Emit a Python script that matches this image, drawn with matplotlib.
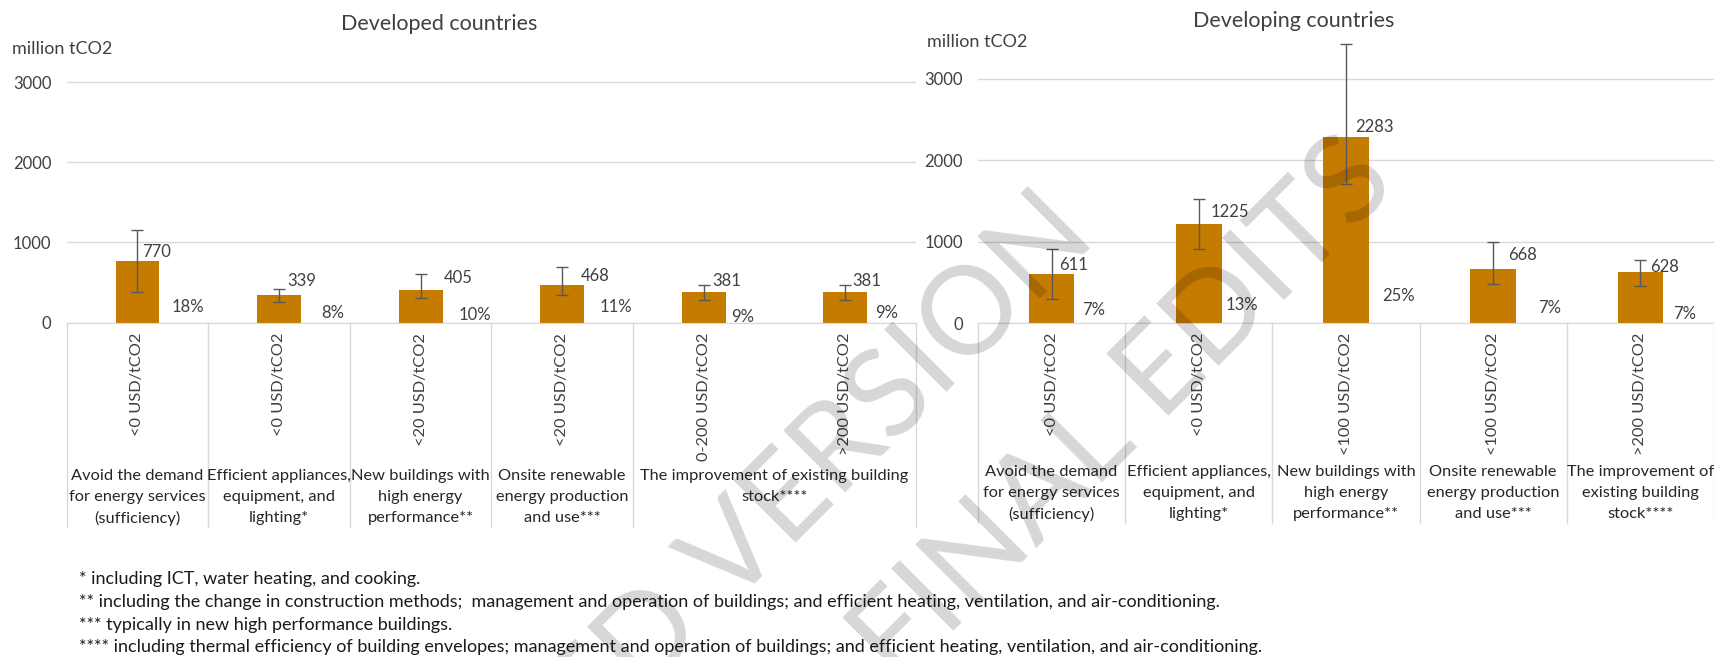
import matplotlib.pyplot as plt
from matplotlib import transforms

plt.rcParams['font.family'] = ['Lato', 'DejaVu Sans']

W, H = 1715, 657

# ---- data: developed countries ----
dev_costs = ['<0 USD/tCO2', '<0 USD/tCO2', '<20 USD/tCO2', '<20 USD/tCO2',
             '0-200 USD/tCO2', '>200 USD/tCO2']
dev_groups = ['Avoid the demand\nfor energy services\n(sufficiency)',
              'Efficient appliances,\nequipment, and\nlighting*',
              'New buildings with\nhigh energy\nperformance**',
              'Onsite renewable\nenergy production\nand use***',
              'The improvement of existing building\nstock****']
dev_group_of_bar = [0, 1, 2, 3, 4, 4]
dev_values = [770, 339, 405, 468, 381, 381]
dev_low = [375, 250, 308, 347, 277, 277]
dev_high = [1158, 421, 600, 690, 467, 467]
dev_share = ['18%', '8%', '10%', '11%', '9%', '9%']

# ---- data: developing countries ----
dvg_costs = ['<0 USD/tCO2', '<0 USD/tCO2', '<100 USD/tCO2', '<100 USD/tCO2',
             '>200 USD/tCO2']
dvg_groups = ['Avoid the demand\nfor energy services\n(sufficiency)',
              'Efficient appliances,\nequipment, and\nlighting*',
              'New buildings with\nhigh energy\nperformance**',
              'Onsite renewable\nenergy production\nand use***',
              'The improvement of\nexisting building\nstock****']
dvg_group_of_bar = [0, 1, 2, 3, 4]
dvg_values = [611, 1225, 2283, 668, 628]
dvg_low = [295, 914, 1709, 488, 463]
dvg_high = [918, 1529, 3426, 1000, 783]
dvg_share = ['7%', '13%', '25%', '7%', '7%']

footnotes = ['* including ICT, water heating, and cooking.',
             '** including the change in construction methods;  management and operation of buildings; '
             'and efficient heating, ventilation, and air-conditioning.',
             '*** typically in new high performance buildings.',
             '**** including thermal efficiency of building envelopes; management and operation of buildings; '
             'and efficient heating, ventilation, and air-conditioning.']

# label nudges in pixels (layout only)
dev_val_nudge = [(5, 9), (8, 14), (23, 12), (19, 9), (9, 11), (7, 11)]
dev_pct_nudge = [(34, 15), (42, 9), (38, 8), (37, 15), (27, 6), (30, 9)]
dvg_val_nudge = [(8, 9), (12, 12), (9, 10), (15, 14), (10, 5)]
dvg_pct_nudge = [(31, 13), (27, 18), (36, 27), (45, 15), (33, 9)]

BAR = '#C57A00'
GRID = '#D9D9D9'
TXT = '#404040'


def fy(py):
    return 1 - py / H


def draw_panel(fig, rect, values, low, high, costs, groups, group_of_bar, shares,
               val_nudge, pct_nudge, sep_bottom, group_top):
    ax = fig.add_axes(rect)
    x = list(range(len(values)))
    yerr = [[v - l for v, l in zip(values, low)], [h - v for v, h in zip(values, high)]]
    ax.bar(x, values, width=0.31, color=BAR, zorder=2)
    ax.errorbar(x, values, yerr=yerr, fmt='none', ecolor='#595959', elinewidth=1,
                capsize=4, capthick=1, zorder=3)
    ax.set_xlim(-0.5, len(values) - 0.5)
    ax.set_ylim(0, 3500)
    ax.set_yticks([0, 1000, 2000, 3000])
    ax.tick_params(axis='y', length=0, pad=11, labelsize=12, labelcolor=TXT)
    ax.set_xticks([])
    ax.grid(axis='y', color=GRID, lw=1)
    ax.set_axisbelow(True)
    for s in ['top', 'right', 'left']:
        ax.spines[s].set_visible(False)
    ax.spines['bottom'].set_color(GRID)

    for i, v in enumerate(values):
        ax.annotate(str(v), (i, v), xytext=val_nudge[i], textcoords='offset pixels',
                    ha='left', va='center', fontsize=12, color=TXT)
        ax.annotate(shares[i], (i, 0), xytext=pct_nudge[i], textcoords='offset pixels',
                    ha='left', va='center', fontsize=12, color=TXT)

    tr = transforms.blended_transform_factory(ax.transData, fig.transFigure)
    for i, c in enumerate(costs):
        fig.text(i, fy(333), c, transform=tr, rotation=90, ha='center', va='top',
                 fontsize=11.8, color=TXT)

    # group labels and separators
    bounds = [-0.5]
    for g, lab in enumerate(groups):
        members = [i for i, gb in enumerate(group_of_bar) if gb == g]
        center = sum(members) / len(members)
        fig.text(center, fy(group_top), lab, transform=tr, ha='center', va='top',
                 fontsize=11.8, color='#262626', linespacing=1.62)
        bounds.append(members[-1] + 0.5)
    y0 = fig.transFigure.inverted().transform(ax.transAxes.transform((0, 0)))[1]
    for b in bounds:
        fig.add_artist(plt.Line2D([b, b], [y0, fy(sep_bottom)], transform=tr,
                                  color=GRID, lw=1))
    return ax


fig = plt.figure(figsize=(W / 100, H / 100), dpi=100)

draw_panel(fig, [66.7 / W, fy(322.5), 849.3 / W, 280.3 / H],
           dev_values, dev_low, dev_high, dev_costs, dev_groups, dev_group_of_bar,
           dev_share, dev_val_nudge, dev_pct_nudge, 527, 469)
draw_panel(fig, [978 / W, fy(323.5), 736 / W, 285.3 / H],
           dvg_values, dvg_low, dvg_high, dvg_costs, dvg_groups, dvg_group_of_bar,
           dvg_share, dvg_val_nudge, dvg_pct_nudge, 523, 465)

fig.text(439 / W, fy(24), 'Developed countries', ha='center', va='center', fontsize=15.5, color=TXT)
fig.text(1294 / W, fy(21), 'Developing countries', ha='center', va='center', fontsize=15.5, color=TXT)
fig.text(12 / W, fy(49), 'million tCO2', ha='left', va='center', fontsize=13, color=TXT)
fig.text(927 / W, fy(42), 'million tCO2', ha='left', va='center', fontsize=13, color=TXT)

for k, line in enumerate(footnotes):
    fig.text(79 / W, fy(579 + 22.8 * k), line, ha='left', va='center', fontsize=13,
             color='#1a1a1a')

# watermark
fig.text(1074 / W, fy(216), 'ACCEPTED VERSION', rotation=45, rotation_mode='anchor',
         ha='right', va='center', fontsize=88, color='black', alpha=0.16, zorder=10)
fig.text(1375 / W, fy(161), 'SUBJECT TO FINAL EDITS', rotation=45, rotation_mode='anchor',
         ha='right', va='center', fontsize=88, color='black', alpha=0.16, zorder=10)

fig.savefig('out.png', dpi=100)
